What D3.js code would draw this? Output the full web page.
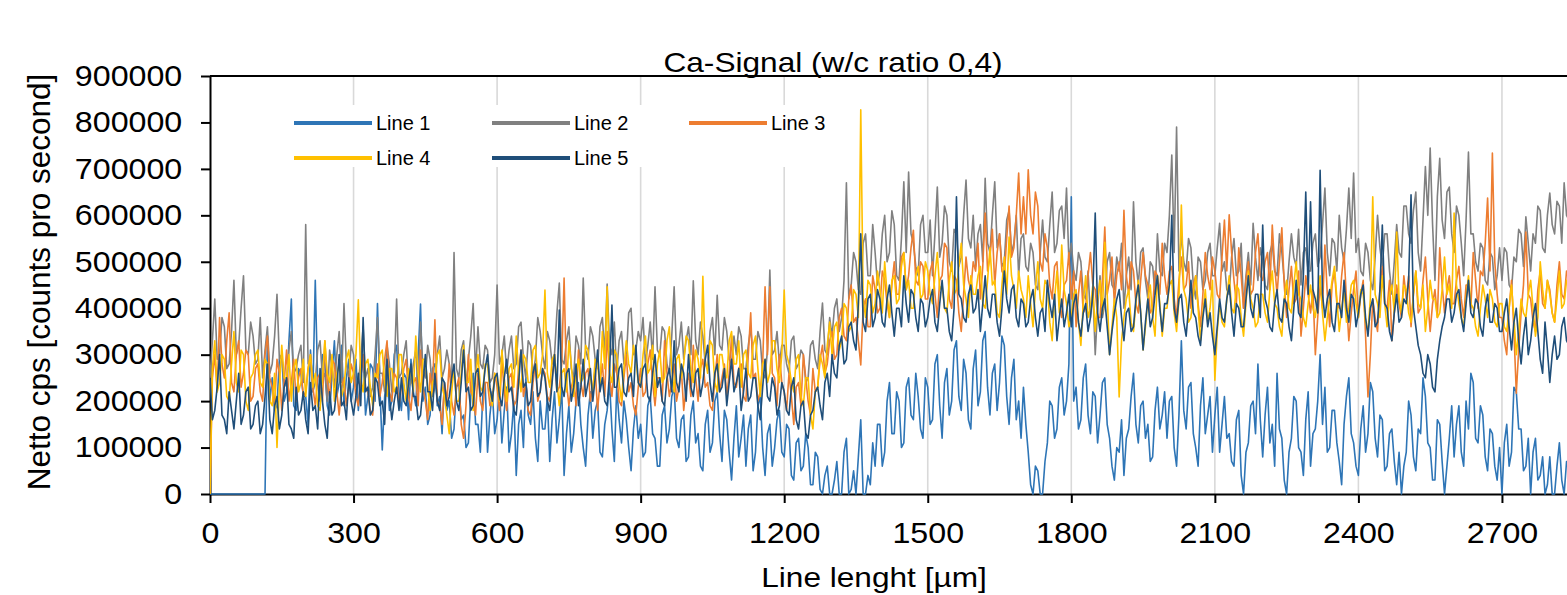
<!DOCTYPE html>
<html>
<head>
<meta charset="utf-8">
<script src="https://cdn.jsdelivr.net/npm/d3@7/dist/d3.min.js"></script>
<style>
  body { margin: 0; background: #fff; }
  text { font-family: "Liberation Sans", Arial, sans-serif; }
</style>
</head>
<body>
<div id="chart"></div>
<script>
// signal values in thousand counts per second, one sample every 5 µm
var positionsUm = d3.range(0, 2850, 5);

var line1 = [
  0,0,0,0,0,0,0,0,0,0,0,0,0,0,0,0,0,0,0,0,
  0,0,0,0,340,200,250,180,190,290,300,200,220,330,420,190,180,270,260,210,
  210,150,310,220,460,240,200,300,280,190,170,260,330,210,240,320,190,250,290,200,
  230,290,180,250,300,170,210,280,270,200,410,230,95,210,260,180,200,300,320,220,
  180,260,250,160,290,220,190,300,409,200,230,150,170,270,280,190,210,130,240,180,
  200,120,140,230,240,160,170,100,110,210,260,150,150,90,210,240,90,170,220,130,
  160,230,110,180,230,90,130,200,40,150,180,100,250,170,150,220,120,70,200,140,
  140,210,70,160,220,110,160,230,40,130,190,90,130,200,240,150,100,60,170,220,
  120,180,200,90,80,150,180,240,140,70,230,160,110,200,160,100,50,140,190,120,
  150,80,90,190,210,130,120,60,60,170,190,110,140,210,230,120,100,160,170,70,
  80,170,200,110,130,60,50,150,180,90,110,200,220,130,70,180,160,90,30,120,
  190,80,120,170,60,140,170,50,90,190,210,100,40,130,150,60,100,160,180,90,
  80,150,140,40,30,110,120,50,60,130,100,20,20,90,80,10,0,40,60,0,
  0,30,70,0,0,90,120,0,10,50,0,80,160,0,0,40,20,110,60,150,
  150,60,90,200,240,130,130,220,200,100,110,230,250,170,160,260,210,140,120,250,
  230,150,160,280,300,190,120,240,270,170,200,310,330,210,180,290,260,160,140,270,
  310,190,220,330,350,230,170,260,280,180,240,340,320,210,150,250,290,160,200,120,
  230,150,90,20,0,60,50,0,0,70,110,200,190,120,140,230,250,170,200,280,
  640,200,230,140,160,250,280,170,130,220,210,110,170,240,250,150,120,60,30,100,
  90,160,40,120,140,210,260,150,110,190,200,120,150,70,80,180,230,140,170,220,
  120,200,210,100,60,170,330,180,140,230,240,130,100,60,190,250,130,170,210,90,
  170,230,90,150,210,120,130,70,60,160,180,40,0,90,110,190,200,130,280,160,
  80,170,230,110,150,60,260,140,120,30,0,90,120,210,200,100,90,40,160,220,
  60,130,140,200,300,150,230,90,100,180,180,110,70,20,150,210,250,130,110,60,
  40,140,190,90,130,240,220,120,80,170,160,50,60,130,140,70,20,90,0,60,
  90,200,170,80,50,140,130,250,210,110,100,30,30,160,150,70,0,60,120,190,
  80,150,190,90,60,200,140,260,240,120,110,190,170,80,50,140,130,60,30,100,
  0,110,150,60,90,230,220,140,140,50,60,120,0,90,120,30,40,80,0,20,
  80,0,0,60,110,30,0,70,50,120
];

var line2 = [
  250,330,420,290,300,380,360,270,280,350,460,300,320,400,470,310,300,370,340,280,
  290,380,250,310,360,260,280,340,430,290,300,230,240,310,350,260,270,300,320,240,
  580,280,290,220,240,310,330,250,260,200,310,270,230,300,350,240,410,280,250,320,
  300,230,240,290,360,250,270,210,230,300,380,260,260,220,320,280,220,260,420,250,
  260,300,330,230,240,280,310,220,370,270,250,320,290,210,230,300,340,250,270,310,
  280,240,520,270,250,310,330,230,290,340,410,260,360,280,270,320,310,240,250,300,
  450,280,300,340,260,310,340,270,280,360,370,290,250,330,320,260,290,380,350,300,
  270,350,330,280,300,390,454,290,280,330,360,270,250,340,320,280,465,310,290,360,
  340,290,270,360,380,300,452,320,300,370,260,330,350,280,290,390,400,300,310,350,
  330,380,280,320,370,290,446,310,300,360,350,280,260,340,446,300,320,370,290,330,
  360,300,459,330,300,370,340,280,270,350,380,300,428,320,310,380,350,290,280,340,
  300,360,340,270,270,320,360,290,290,350,330,260,250,310,482,300,310,350,280,320,
  320,280,260,330,340,270,280,310,300,240,250,320,330,290,270,350,411,310,300,380,
  340,400,420,350,380,460,670,420,450,520,500,440,430,540,560,470,470,580,520,450,
  480,560,600,500,520,610,580,470,460,550,672,520,693,560,540,490,470,580,600,520,
  520,590,470,560,661,510,540,620,600,500,480,570,560,490,510,600,676,550,530,600,
  490,560,580,500,680,540,520,600,672,530,560,490,500,590,610,520,540,600,470,550,
  560,490,480,540,520,450,440,520,590,510,500,580,650,520,540,610,620,550,659,500,
  540,480,460,520,500,430,420,480,380,440,300,400,470,380,410,500,520,450,440,510,
  480,540,400,470,510,440,629,500,450,520,530,460,420,500,490,430,560,480,470,540,
  520,600,730,520,790,480,560,500,480,550,530,450,420,510,500,440,460,520,540,470,
  470,530,583,480,500,440,430,510,550,470,480,540,400,470,520,450,583,510,460,530,
  500,450,440,520,540,480,470,560,520,460,430,500,560,510,490,570,450,520,530,480,
  480,540,560,490,510,580,659,520,470,550,540,480,600,530,500,570,659,550,691,520,
  550,480,470,540,520,460,440,510,600,530,490,560,560,480,430,500,580,520,510,620,
  620,560,540,610,650,520,480,590,705,600,745,580,460,640,723,590,550,650,661,560,
  520,620,600,540,470,590,736,560,560,500,480,540,530,460,450,520,510,440,470,530,
  460,530,520,450,440,510,500,570,560,490,597,540,480,560,540,620,610,530,520,600,
  648,580,560,630,620,540,670,600,590,650
];

var line3 = [
  0,250,300,220,380,280,250,330,390,240,220,300,330,230,260,310,300,200,210,270,
  280,220,200,300,340,250,230,190,290,260,180,240,310,200,240,290,200,250,270,210,
  220,270,300,230,190,250,260,200,330,240,210,290,280,220,170,230,250,190,230,280,
  260,210,190,250,300,230,220,180,170,240,280,210,240,290,330,220,200,260,250,190,
  230,270,290,210,180,240,250,190,310,230,200,160,260,220,375,200,190,150,240,200,
  280,200,170,230,250,150,120,190,300,220,210,170,260,200,180,240,240,190,200,260,
  230,180,290,220,180,250,260,190,200,270,310,210,240,180,170,240,280,200,220,270,
  260,210,200,250,300,220,230,280,465,240,190,230,250,190,310,240,210,260,270,200,
  230,270,180,240,280,210,350,250,210,280,260,200,190,250,300,220,240,190,170,230,
  270,210,220,280,310,240,190,250,250,200,330,260,210,240,280,200,230,270,180,230,
  260,210,320,250,200,270,290,230,240,190,180,250,300,220,250,280,210,260,340,240,
  230,270,280,210,200,300,390,250,260,200,220,280,446,300,446,260,250,190,300,240,
  220,180,260,210,150,230,240,190,300,250,200,170,270,220,230,290,320,260,280,330,
  350,290,300,380,400,340,330,420,450,370,380,330,278,400,420,360,360,470,440,390,
  400,480,460,410,380,450,500,430,430,510,520,440,470,530,568,460,450,500,490,420,
  420,480,500,430,380,460,470,540,530,420,400,470,460,390,350,430,510,460,440,500,
  480,540,420,490,605,480,510,570,450,520,560,480,470,550,620,510,530,600,691,560,
  640,560,698,600,560,650,620,500,480,560,530,450,420,490,500,410,380,450,460,520,
  420,480,360,430,480,390,400,470,520,450,440,380,380,460,575,430,460,510,410,470,
  500,440,611,470,430,500,480,410,390,460,520,470,450,390,400,480,470,430,540,470,
  430,480,490,420,380,460,510,440,450,500,400,450,470,410,360,430,520,470,440,510,
  480,430,420,510,590,480,601,520,460,410,530,470,400,460,500,430,440,520,560,470,
  460,500,520,440,579,490,430,500,573,450,380,440,490,410,420,480,340,400,470,430,
  390,440,300,380,450,400,536,430,360,450,480,410,400,470,520,420,330,390,440,480,
  380,430,460,340,209,300,420,380,350,440,490,410,400,460,330,390,450,410,380,470,
  420,470,360,430,480,390,400,460,510,420,350,410,440,380,530,450,390,440,470,410,
  410,460,490,420,380,450,450,400,520,460,400,480,470,540,637,480,734,500,430,380,
  380,330,300,400,460,350,217,310,390,450,564,430,420,370,350,440,480,410,400,460,
  440,390,370,450,500,430,420,480,460,410
];

var line4 = [
  0,270,330,220,240,300,290,210,200,280,350,240,220,310,300,200,180,250,260,300,
  310,240,230,290,280,200,190,260,100,230,320,250,250,300,200,270,290,220,240,290,
  210,270,300,230,260,190,180,250,330,260,240,300,200,260,280,210,230,290,310,240,
  260,300,418,250,220,280,290,230,190,260,250,300,310,240,210,270,270,220,230,300,
  300,240,200,270,260,220,340,260,220,290,290,230,180,240,250,300,310,230,210,170,
  130,220,270,200,200,260,320,240,240,290,180,250,300,230,220,280,280,220,190,260,
  250,200,310,250,200,270,280,230,340,260,220,300,290,240,240,310,320,250,260,300,
  439,260,230,290,300,240,190,260,270,220,330,280,210,260,290,240,250,320,310,250,
  220,290,280,230,350,270,446,260,240,310,300,240,200,270,330,280,260,320,290,240,
  230,300,340,260,270,320,210,280,310,240,250,330,360,270,220,290,300,250,280,340,
  330,270,240,310,290,250,469,290,260,330,320,240,220,300,300,260,250,330,350,280,
  280,330,230,300,310,260,250,320,340,270,210,280,290,240,260,330,330,270,240,300,
  439,300,280,240,220,290,300,210,190,250,250,170,140,220,230,300,280,250,320,370,
  300,360,370,310,330,410,400,350,360,440,430,380,827,420,380,460,450,390,410,480,
  440,390,500,430,380,460,470,410,420,490,520,440,460,400,400,470,490,420,430,500,
  480,430,410,470,520,440,450,400,390,460,500,430,440,490,540,450,420,380,470,430,
  430,470,490,410,400,460,530,450,460,390,380,450,510,430,553,470,440,400,480,440,
  420,380,470,410,360,440,500,420,400,460,450,370,330,420,480,390,536,440,410,360,
  380,430,440,370,320,410,470,380,400,450,350,420,460,390,542,430,300,360,420,380,
  209,330,380,420,440,370,350,410,460,390,310,360,420,450,380,340,470,410,340,400,
  400,450,460,390,350,420,622,440,420,370,380,430,470,400,330,390,440,370,400,460,
  245,350,410,370,360,420,470,400,390,450,440,380,340,410,480,420,400,360,370,430,
  430,390,370,440,480,410,400,360,340,420,460,400,390,450,500,430,420,380,360,410,
  450,400,380,430,470,390,330,380,420,460,490,420,350,400,440,370,400,450,460,410,
  380,440,430,370,350,420,640,430,410,380,470,410,360,430,450,390,564,420,390,450,
  440,390,370,430,480,410,400,450,350,400,460,420,420,380,390,440,510,430,450,400,
  605,450,410,380,360,420,470,410,400,360,340,400,450,420,380,440,420,370,360,410,
  410,360,350,400,450,380,300,350,420,390,380,430,460,400,340,380,500,440,400,460,
  430,390,370,420,480,400,410,460,450,420
];

var line5 = [
  250,160,180,230,300,170,160,130,220,180,140,200,260,150,170,220,230,140,150,190,
  200,130,150,210,280,160,130,190,210,140,170,230,250,150,140,120,230,170,180,220,
  160,130,240,180,190,140,270,200,150,120,220,170,180,230,300,190,200,160,250,200,
  170,210,260,190,380,220,230,170,180,250,240,190,200,150,290,210,160,200,230,180,
  250,200,190,240,280,210,210,160,170,230,300,220,220,180,260,200,180,250,240,190,
  210,250,280,200,180,240,310,220,230,180,190,260,270,210,220,270,300,230,200,250,
  260,210,190,250,290,220,230,180,170,240,310,230,240,190,200,260,280,210,220,270,
  250,200,180,240,300,220,396,230,210,260,270,200,230,280,190,230,290,210,240,270,
  200,250,310,220,250,200,190,260,407,230,230,270,280,220,210,250,260,210,320,240,
  230,270,280,210,200,260,300,230,250,200,190,250,270,220,330,240,220,280,260,200,
  300,230,210,260,270,210,240,290,320,240,200,260,280,220,230,270,190,240,290,220,
  240,270,180,220,270,200,210,250,250,190,160,230,290,210,200,250,230,170,190,240,
  220,180,170,230,250,160,140,190,200,130,120,170,180,220,230,190,160,240,260,210,
  300,260,250,320,340,280,290,360,370,330,310,410,560,370,350,420,430,360,380,440,
  420,370,360,420,450,390,340,400,400,360,470,410,370,440,430,380,350,420,410,360,
  380,420,440,370,350,410,460,400,400,350,330,400,640,430,420,380,370,430,450,390,
  400,440,350,410,470,400,380,430,430,370,340,400,480,420,390,440,450,380,360,420,
  410,360,370,420,440,380,340,390,400,350,460,410,380,430,330,380,420,360,390,430,
  360,410,430,370,340,390,410,350,380,430,605,390,350,400,420,360,300,350,390,420,
  440,380,330,390,400,350,360,420,450,390,310,370,420,360,380,430,470,400,350,410,
  410,450,600,400,370,420,430,370,340,400,460,390,380,340,320,380,420,360,390,340,
  300,360,420,380,370,420,450,390,340,410,400,360,360,420,470,400,380,430,430,380,
  579,420,400,360,350,410,440,380,370,420,410,360,330,400,460,390,380,470,650,430,
  629,440,420,390,697,430,380,420,440,370,350,410,410,380,460,400,370,430,420,360,
  390,430,450,380,340,400,420,360,370,440,579,410,400,350,330,390,430,370,380,420,
  410,460,644,400,360,320,300,260,250,300,280,230,220,290,330,360,380,420,420,370,
  390,430,440,380,350,410,460,390,380,420,410,360,340,400,430,370,370,410,400,350,
  350,390,420,360,310,370,400,330,280,340,380,300,330,380,410,350,290,260,370,310,
  240,300,340,290,300,360,380,330,320,370
];

var seriesNames = ["Line 1", "Line 2", "Line 3", "Line 4", "Line 5"];
var seriesColors = ["#2E75B6", "#808080", "#ED7D31", "#FFC000", "#1F4E79"];
var seriesValues = [line1, line2, line3, line4, line5];

var xTicks = [0, 300, 600, 900, 1200, 1500, 1800, 2100, 2400, 2700];
var yTicks = [0, 100000, 200000, 300000, 400000, 500000, 600000, 700000, 800000, 900000];

var chartTitle = "Ca-Signal (w/c ratio 0,4)";
var xTitle = "Line lenght [µm]";
var yTitle = "Netto cps [counts pro second]";

var width = 1567, height = 595;
var margin = {top: 76, left: 210, bottom: 101};
var plotBottom = height - margin.bottom;
var stretch = 1.11; // text in the original is slightly wider than Arial

var x = d3.scaleLinear()
    .domain([0, 3000])
    .range([margin.left, margin.left + 1435.5]);

var y = d3.scaleLinear()
    .domain([0, 900000])
    .range([plotBottom, margin.top]);

var svg = d3.select("#chart")
    .append("svg")
    .attr("width", width)
    .attr("height", height);

svg.append("defs").append("clipPath")
    .attr("id", "plot-clip")
  .append("rect")
    .attr("x", margin.left)
    .attr("y", margin.top - 10)
    .attr("width", width - margin.left)
    .attr("height", plotBottom - margin.top + 12);

// vertical gridlines
svg.append("g")
  .selectAll("line")
  .data(xTicks.filter(d => d > 0))
  .enter()
  .append("line")
    .attr("x1", d => x(d))
    .attr("x2", d => x(d))
    .attr("y1", margin.top)
    .attr("y2", plotBottom)
    .attr("stroke", "#d9d9d9")
    .attr("stroke-width", 1.6);

// frame top
svg.append("line")
    .attr("x1", x(0))
    .attr("x2", x(3000))
    .attr("y1", y(900000))
    .attr("y2", y(900000))
    .attr("stroke", "#000")
    .attr("stroke-width", 2);

var yAxis = svg.append("g")
    .attr("transform", "translate(" + margin.left + ",0)")
    .call(d3.axisLeft(y).tickValues(yTicks).tickFormat(d3.format("d"))
      .tickSize(9).tickSizeOuter(0).tickPadding(16));

var xAxis = svg.append("g")
    .attr("transform", "translate(0," + plotBottom + ")")
    .call(d3.axisBottom(x).tickValues(xTicks).tickFormat(d3.format("d"))
      .tickSize(9).tickSizeOuter(0).tickPadding(19));

[xAxis, yAxis].forEach(function (g) {
  g.select(".domain").attr("stroke", "#000").attr("stroke-width", 2);
  g.selectAll(".tick line").attr("stroke", "#000").attr("stroke-width", 2);
  g.selectAll(".tick text")
    .attr("fill", "#000")
    .attr("font-size", "29px")
    .attr("font-family", "'Liberation Sans', Arial, sans-serif")
    .attr("transform", "scale(" + stretch + ",1)");
});

// data lines
var line = d3.line()
    .x((d, i) => x(positionsUm[i]))
    .y(d => y(d * 1000));

svg.append("g")
    .attr("clip-path", "url(#plot-clip)")
  .selectAll("path")
  .data(seriesValues)
  .enter()
  .append("path")
    .attr("d", d => line(d))
    .attr("fill", "none")
    .attr("stroke", (d, i) => seriesColors[i])
    .attr("stroke-width", 1.6)
    .attr("stroke-linejoin", "round");

// legend
var legend = svg.append("g");
legend.append("rect")
    .attr("x", 285)
    .attr("y", 105)
    .attr("width", 550)
    .attr("height", 62)
    .attr("fill", "#fff");

var legendCols = [294, 492, 689];
var legendRows = [123, 158];

var items = legend.selectAll(".item")
  .data(seriesNames)
  .enter()
  .append("g")
    .attr("class", "item")
    .attr("transform", (d, i) => "translate(" + legendCols[i % 3] + "," + legendRows[Math.floor(i / 3)] + ")");

items.append("line")
    .attr("x1", 0)
    .attr("x2", 78)
    .attr("stroke", (d, i) => seriesColors[i])
    .attr("stroke-width", 4);

items.append("text")
    .attr("x", 82)
    .attr("dy", "0.35em")
    .attr("font-family", "'Open Sans', Lato, sans-serif")
    .attr("font-size", "20px")
    .attr("fill", "#000")
    .text(d => d);

// titles
svg.append("g")
    .attr("transform", "translate(833,72)")
  .append("text")
    .attr("text-anchor", "middle")
    .attr("font-size", "28.5px")
    .attr("transform", "scale(" + stretch + ",1)")
    .text(chartTitle);

svg.append("g")
    .attr("transform", "translate(874,587)")
  .append("text")
    .attr("text-anchor", "middle")
    .attr("font-size", "28.5px")
    .attr("transform", "scale(" + stretch + ",1)")
    .text(xTitle);

svg.append("text")
    .attr("transform", "translate(50,282) rotate(-90)")
    .attr("text-anchor", "middle")
    .attr("font-size", "31.5px")
    .text(yTitle);
</script>
</body>
</html>
